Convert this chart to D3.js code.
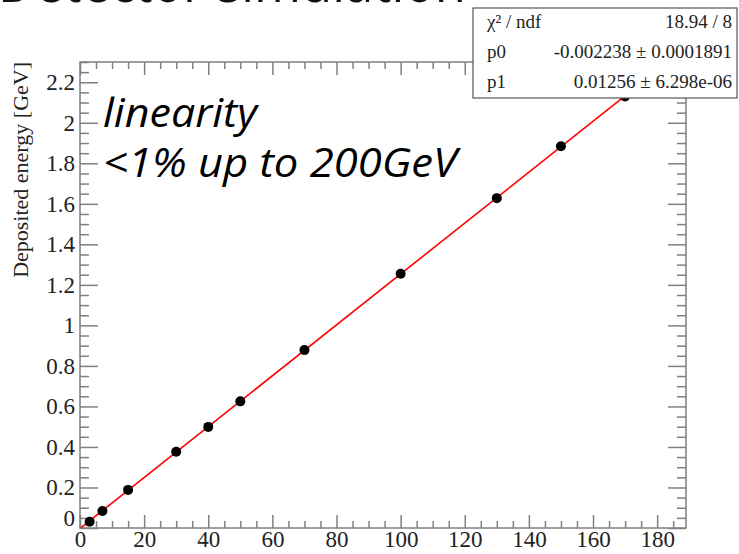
<!DOCTYPE html>
<html>
<head>
<meta charset="utf-8">
<script src="https://cdn.jsdelivr.net/npm/d3@7"></script>
<style>
  body { margin: 0; background: #fff; }
  svg { display: block; }
</style>
</head>
<body>
<div id="chart"></div>
<script>
// beam energy [GeV] and deposited energy [GeV]
const energies = [3, 7, 15, 30, 40, 50, 70, 100, 130, 150, 170];
const deposited = [0.031, 0.084, 0.188, 0.376, 0.499, 0.625, 0.878, 1.255, 1.628, 1.884, 2.13];

// fit result, pol1
const fit_p0 = -0.002238;
const fit_p1 = 0.01256;

const stat_names = ['\u03C7\u00B2 / ndf', 'p0', 'p1'];
const stat_values = ['18.94 / 8', '-0.002238 \u00B1 0.0001891', '0.01256 \u00B1 6.298e-06'];

const x_major_ticks = [0, 20, 40, 60, 80, 100, 120, 140, 160, 180];
const y_major_ticks = [0, 0.2, 0.4, 0.6, 0.8, 1, 1.2, 1.4, 1.6, 1.8, 2, 2.2];

const y_title = 'Deposited energy [GeV]';
const note_lines = ['linearity', '<1% up to 200GeV'];
const note_widths = [154, 354];
const slide_title = 'Detector simulation';

const width = 739, height = 554;
const frame = {left: 80, right: 686, top: 62, bottom: 528};
const axis_color = '#808080';
const serif = '"Liberation Serif", "DejaVu Serif", serif';

let svg = d3.select('#chart').append('svg')
    .attr('width', width)
    .attr('height', height);

let x = d3.scaleLinear().domain([0, 189]).range([frame.left, frame.right]);
let y = d3.scaleLinear().domain([0, 2.3]).range([frame.bottom, frame.top]);

let x_minor_ticks = d3.range(0, 38).map(i => i * 5).filter(v => v % 20 !== 0);
let y_minor_ticks = d3.range(0, 47).map(i => i * 0.05).filter((v, i) => i % 4 !== 0);

// big slide title, only its lower edge shows at the top of the page
svg.append('text')
    .attr('x', -2)
    .attr('y', 2)
    .attr('textLength', 468)
    .attr('lengthAdjust', 'spacingAndGlyphs')
    .style('font-family', '"Open Sans", sans-serif')
    .style('font-size', '62px')
    .style('fill', '#111')
    .text(slide_title);

function style_axis(g) {
    g.select('.domain').remove();
    g.selectAll('line').attr('stroke', axis_color).attr('stroke-width', 1.5);
    g.selectAll('text')
        .style('font-family', serif)
        .style('font-size', '23px')
        .style('fill', '#222');
}

// bottom axis, ticks pointing in
svg.append('g')
    .attr('transform', 'translate(0,' + frame.bottom + ')')
    .call(d3.axisBottom(x).tickValues(x_major_ticks).tickSize(-13).tickPadding(3).tickFormat(d3.format('d')))
    .call(style_axis);
svg.append('g')
    .attr('transform', 'translate(0,' + frame.bottom + ')')
    .call(d3.axisBottom(x).tickValues(x_minor_ticks).tickSize(-7).tickFormat(''))
    .call(style_axis);

// top axis
svg.append('g')
    .attr('transform', 'translate(0,' + frame.top + ')')
    .call(d3.axisTop(x).tickValues(x_major_ticks).tickSize(-13).tickFormat(''))
    .call(style_axis);
svg.append('g')
    .attr('transform', 'translate(0,' + frame.top + ')')
    .call(d3.axisTop(x).tickValues(x_minor_ticks).tickSize(-7).tickFormat(''))
    .call(style_axis);

// left axis
let left_axis = svg.append('g')
    .attr('transform', 'translate(' + frame.left + ',0)')
    .call(d3.axisLeft(y).tickValues(y_major_ticks).tickSize(-18).tickPadding(5).tickFormat(d => String(+d.toFixed(1))))
    .call(style_axis);
left_axis.selectAll('.tick').filter(d => d === 0).select('text').attr('dy', '-0.12em');
svg.append('g')
    .attr('transform', 'translate(' + frame.left + ',0)')
    .call(d3.axisLeft(y).tickValues(y_minor_ticks).tickSize(-9).tickFormat(''))
    .call(style_axis);

// right axis
svg.append('g')
    .attr('transform', 'translate(' + frame.right + ',0)')
    .call(d3.axisRight(y).tickValues(y_major_ticks).tickSize(-18).tickFormat(''))
    .call(style_axis);
svg.append('g')
    .attr('transform', 'translate(' + frame.right + ',0)')
    .call(d3.axisRight(y).tickValues(y_minor_ticks).tickSize(-9).tickFormat(''))
    .call(style_axis);

// frame
svg.append('rect')
    .attr('x', frame.left)
    .attr('y', frame.top)
    .attr('width', frame.right - frame.left)
    .attr('height', frame.bottom - frame.top)
    .attr('fill', 'none')
    .attr('stroke', axis_color)
    .attr('stroke-width', 1.5);

// y title
svg.append('text')
    .attr('transform', 'translate(28,' + frame.top + ') rotate(-90)')
    .attr('text-anchor', 'end')
    .style('font-family', serif)
    .style('font-size', '22px')
    .style('fill', '#222')
    .text(y_title);

// clip for the fit line
svg.append('clipPath').attr('id', 'frame-clip')
    .append('rect')
    .attr('x', frame.left)
    .attr('y', frame.top)
    .attr('width', frame.right - frame.left)
    .attr('height', frame.bottom - frame.top);

let fit_x = [0.3, 189];
svg.append('path')
    .datum(fit_x)
    .attr('clip-path', 'url(#frame-clip)')
    .attr('d', d3.line().x(d => x(d)).y(d => y(fit_p0 + fit_p1 * d)))
    .attr('fill', 'none')
    .attr('stroke', '#ff0000')
    .attr('stroke-width', 1.6);

svg.append('g').selectAll('circle')
    .data(energies)
    .join('circle')
    .attr('cx', d => x(d))
    .attr('cy', (d, i) => y(deposited[i]))
    .attr('r', 5)
    .attr('fill', '#000');

// annotation
svg.append('g').selectAll('text')
    .data(note_lines)
    .join('text')
    .attr('x', 103)
    .attr('y', (d, i) => 127 + i * 50)
    .attr('textLength', (d, i) => note_widths[i])
    .attr('lengthAdjust', 'spacingAndGlyphs')
    .style('font-family', '"Open Sans", sans-serif')
    .style('font-style', 'italic')
    .style('font-size', '40px')
    .style('fill', '#000')
    .text(d => d);

// stats box
let box = svg.append('g');
box.append('rect')
    .attr('x', 473)
    .attr('y', 8)
    .attr('width', 264)
    .attr('height', 90)
    .attr('fill', '#fff')
    .attr('stroke', '#555')
    .attr('stroke-width', 1.2);
box.selectAll('.stat-name')
    .data(stat_names)
    .join('text')
    .attr('class', 'stat-name')
    .attr('x', 487)
    .attr('y', (d, i) => 28 + i * 30)
    .style('font-family', serif)
    .style('font-size', '19px')
    .style('fill', '#222')
    .text(d => d);
box.selectAll('.stat-value')
    .data(stat_values)
    .join('text')
    .attr('class', 'stat-value')
    .attr('x', 732)
    .attr('y', (d, i) => 28 + i * 30)
    .attr('text-anchor', 'end')
    .style('font-family', serif)
    .style('font-size', '19px')
    .style('fill', '#222')
    .text(d => d);
</script>
</body>
</html>
